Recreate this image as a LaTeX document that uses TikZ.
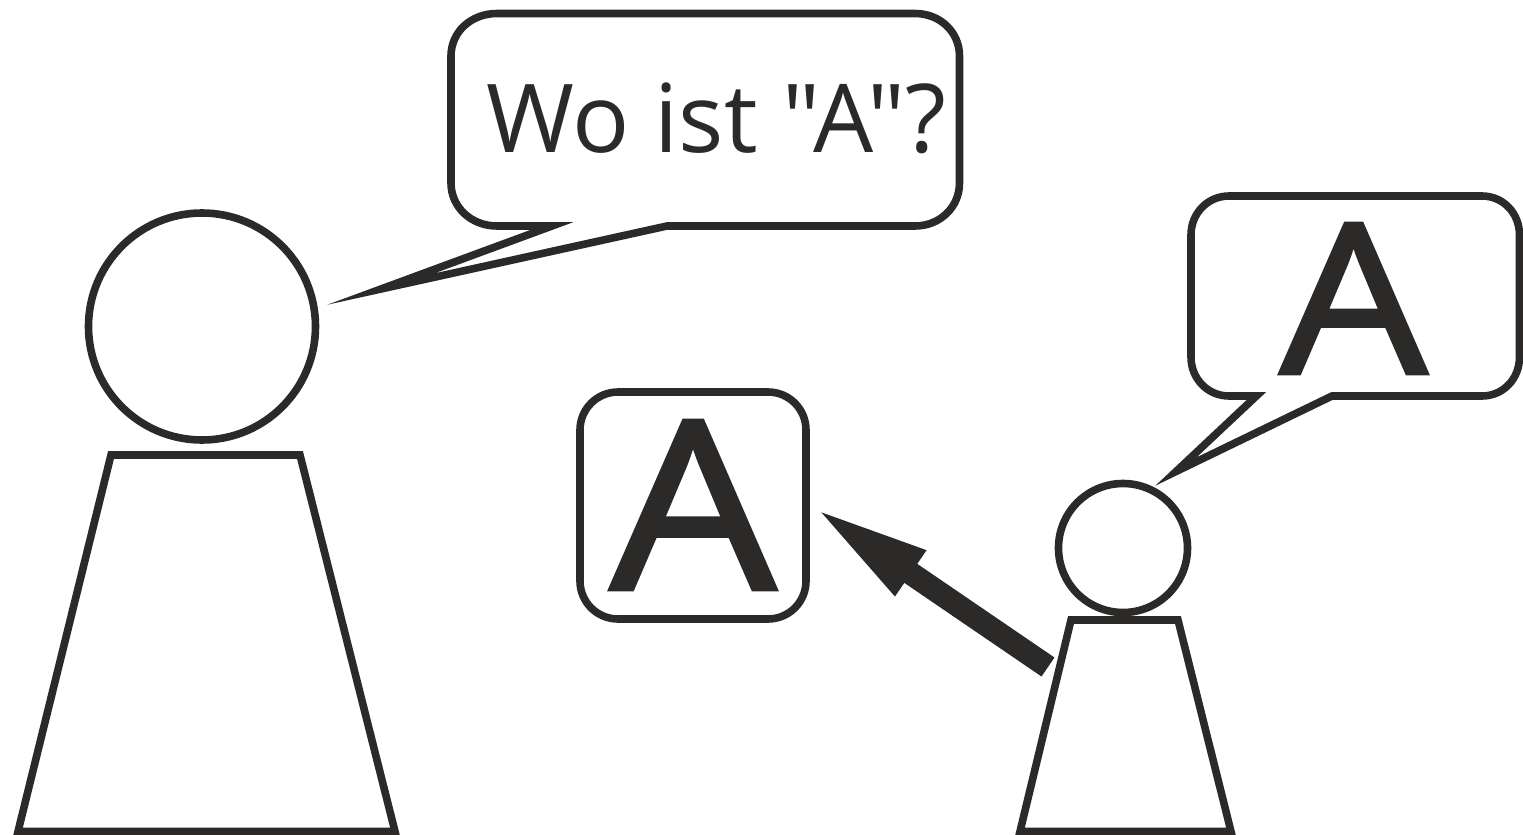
\documentclass[tikz,border=0pt]{standalone}
\usepackage{fontspec}
\newfontfamily\labelfont{Open Sans}
\newfontfamily\bigfont[FakeBold=1.6]{Open Sans}
\setmainfont{Open Sans}
\usetikzlibrary{arrows.meta}
\definecolor{ink}{HTML}{2B2A29}
\tikzset{
  outline/.style={draw=ink,line width=3.8pt,miter limit=40,line join=miter},
  headshape/.style={outline,circle,inner sep=0pt,outer sep=0pt},
  lettertext/.style={text=ink,inner sep=0pt,outer sep=0pt,anchor=center},
}
\begin{document}
\begin{tikzpicture}[x=0.5pt,y=-0.5pt]
\useasboundingbox (0,0) rectangle (1523,835);
% large person
\node[headshape,minimum size=113.5pt] (headA) at (202,326.5) {};
\draw[outline] (111,455) -- (300,455) -- (395,831.5) -- (18,831.5) -- cycle;
% small person
\node[headshape,minimum size=64.5pt] (headB) at (1123,548) {};
\draw[outline] (1071,620) -- (1178,620) -- (1231,831.5) -- (1020,831.5) -- cycle;
% speech bubble of the large person
\draw[outline] (497,13.5) -- (915,13.5)
  .. controls (940,13.5) and (959.5,32) .. (959.5,56) -- (959.5,183)
  .. controls (959.5,207) and (940,226) .. (915,226) -- (667,226)
  -- (381,289) -- (552,226) -- (497,226)
  .. controls (471,226) and (451,207) .. (451,183) -- (451,56)
  .. controls (451,32) and (471,13.5) .. (497,13.5) -- cycle;
\node[lettertext] (question) at (716.5,118.5) {\labelfont\fontsize{47.5pt}{50pt}\selectfont Wo ist "A"?};
% speech bubble of the small person
\draw[outline] (1229,196) -- (1482,196)
  .. controls (1503,196) and (1519.5,213) .. (1519.5,235) -- (1519.5,357)
  .. controls (1519.5,379) and (1503,396) .. (1482,396) -- (1332,396)
  -- (1176,471.5) -- (1256.4,396) -- (1229,396)
  .. controls (1208,396) and (1191,379) .. (1191,357) -- (1191,235)
  .. controls (1191,213) and (1208,196) .. (1229,196) -- cycle;
\node[lettertext] (letterB) at (1353.5,298.5) {\bigfont\fontsize{105pt}{110pt}\selectfont\scalebox{1.11}[1]{A}};
% object box
\node[outline,rounded corners=19pt,minimum width=113pt,minimum height=113.5pt,inner sep=0pt,outer sep=0pt] (box) at (693,505.5) {};
\node[lettertext] (letterC) at (693,505) {\bigfont\fontsize{118pt}{124pt}\selectfont\scalebox{1.11}[1]{A}};
% pointing arrow
\coordinate (armstart) at (1048,667);
\coordinate (armtip) at (810,504.6);
\draw[ink,line width=11.5pt,-{Triangle[length=61pt,width=24pt]}] (armstart) -- (armtip);
\end{tikzpicture}
\end{document}
